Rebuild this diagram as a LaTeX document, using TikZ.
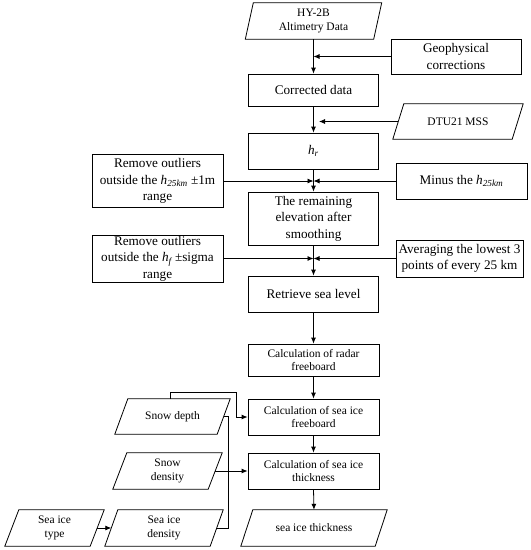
\documentclass[tikz,border=0pt]{standalone}
\usepackage{fontspec}
\setmainfont{Liberation Serif}
\usetikzlibrary{arrows.meta,calc}
\newcommand{\bigf}{\fontsize{13.2}{16.5}\selectfont}
\newcommand{\smallf}{\fontsize{11.5}{13.6}\selectfont}
\newcommand{\hsub}[1]{\textit{h}\textsubscript{\textit{#1}}}
\newcommand{\paraout}[2]{\draw[line width=0.8pt] ([xshift=#2pt]#1.north west) -- (#1.north east) -- ([xshift=-#2pt]#1.south east) -- (#1.south west) -- cycle;}
\begin{document}
\begin{tikzpicture}[x=1pt,y=-1pt,
  box/.style={draw,line width=0.8pt,minimum width=130pt,inner sep=1pt,align=center},
  para/.style={inner sep=1pt,align=center},
  arr/.style={line width=0.8pt,-{Latex[length=6pt,width=5pt]}},
  ln/.style={line width=0.8pt}]
\useasboundingbox (0,0) rectangle (531,550);
% main column
\node[para,minimum width=136pt,minimum height=36pt,font=\smallf] (hy) at (313.5,21) {HY-2B\\Altimetry Data};
\paraout{hy}{8}
\node[box,minimum height=35pt,font=\bigf] (geo) at (456,56.5) {Geophysical\\corrections};
\node[box,minimum height=32pt,font=\bigf] (cor) at (313.5,90) {Corrected data};
\node[para,minimum width=130pt,minimum height=35pt,font=\smallf] (dtu) at (458,121.5) {DTU21 MSS};
\paraout{dtu}{11}
\node[box,minimum height=36pt,font=\bigf] (hr) at (313.5,151) {\hsub{r}};
\node[box,minimum width=131pt,minimum height=53pt,font=\bigf] (rm1) at (157.5,181) {Remove outliers\\outside the \hsub{25km} ±1m\\range};
\node[box,minimum width=131pt,minimum height=36pt,font=\bigf] (minus) at (461.5,181) {Minus the \hsub{25km}};
\node[box,minimum height=53pt,font=\bigf] (rem) at (313.5,218.5) {The remaining\\elevation after\\smoothing};
\node[box,minimum width=131pt,minimum height=47pt,font=\bigf] (rm2) at (157.5,258.5) {Remove outliers\\outside the \hsub{f}\,±sigma\\range};
\node[box,minimum width=127pt,minimum height=37pt,font=\bigf] (avg) at (459.5,258.5) {Averaging the lowest 3\\points of every 25 km};
\node[box,minimum height=36pt,font=\bigf] (ret) at (313.5,294) {Retrieve sea level};
\node[box,minimum width=131pt,minimum height=32pt,font=\smallf] (radar) at (313.5,360) {Calculation of radar\\freeboard};
\node[box,minimum width=131pt,minimum height=36pt,font=\smallf] (sif) at (313.5,417) {Calculation of sea ice\\freeboard};
\node[box,minimum width=131pt,minimum height=36pt,font=\smallf] (sit) at (313.5,471) {Calculation of sea ice\\thickness};
\node[para,minimum width=146pt,minimum height=36pt,font=\smallf] (out) at (314,528) {sea ice thickness};
\paraout{out}{12}
% left inputs
\node[para,minimum width=115pt,minimum height=35pt,font=\smallf] (sd) at (172.5,416.5) {Snow depth};
\paraout{sd}{13}
\node[para,minimum width=109pt,minimum height=36pt,font=\smallf] (sdn) at (167.5,471) {Snow\\density};
\paraout{sdn}{14}
\node[para,minimum width=118pt,minimum height=36pt,font=\smallf] (sidn) at (164,528) {Sea ice\\density};
\paraout{sidn}{13}
\node[para,minimum width=99pt,minimum height=36pt,font=\smallf] (styp) at (54.5,528) {Sea ice\\type};
\paraout{styp}{14}
% connectors
\draw[arr] (hy.south) -- (cor.north);
\draw[arr] (geo.west) -- (geo.west -| cor.north);
\draw[arr] (cor.south) -- (hr.north);
\draw[arr] ([xshift=5.5pt]dtu.west) -- ([xshift=5.5pt]dtu.west -| cor.north);
\draw[arr] (hr.south) -- (rem.north);
\draw[arr] (rm1.east) -- (rm1.east -| hr.south);
\draw[arr] (minus.west) -- (minus.west -| hr.south);
\draw[arr] (rem.south) -- (ret.north);
\draw[arr] (rm2.east) -- (rm2.east -| rem.south);
\draw[arr] (avg.west) -- (avg.west -| rem.south);
\draw[arr] (ret.south) -- (radar.north);
\draw[arr] (radar.south) -- (sif.north);
\draw[arr] (sif.south) -- (sit.north);
\draw[arr] (sit.south) -- (out.north);
\draw[arr] ([xshift=-2pt]sd.north) -- ++(0,-6) -| (236,417) -- (sif.west);
\draw[ln] ([xshift=-6.5pt]sd.east) -- (228,416.5) -- (228,528) -- ([xshift=-6.5pt]sidn.east);
\draw[arr] ([xshift=-7pt]sdn.east) -- (sit.west);
\draw[arr] ([xshift=-7pt]styp.east) -- ([xshift=6.5pt]sidn.west);
\end{tikzpicture}
\end{document}
